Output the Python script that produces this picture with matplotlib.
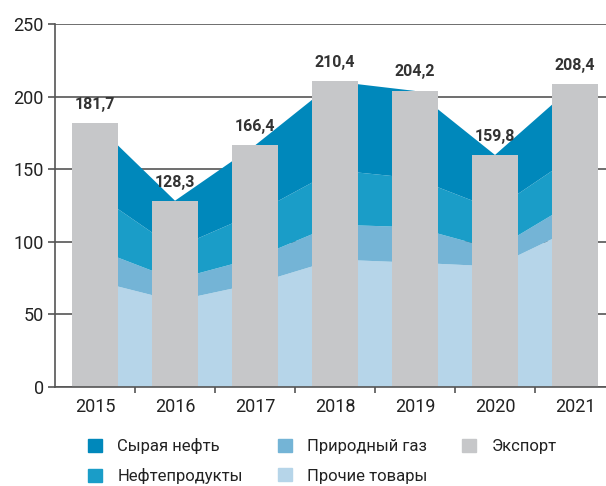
import numpy as np
import matplotlib.pyplot as plt
from matplotlib.patches import Patch

# данные
years = ['2015', '2016', '2017', '2018', '2019', '2020', '2021']
export = [181.7, 128.3, 166.4, 210.4, 204.2, 159.8, 208.4]
crude = [48.2, 32.8, 46.9, 61.1, 60.2, 37.5, 48.9]
products = [38.3, 21.5, 30.7, 37.5, 33.7, 27.4, 31.6]
gas = [22.0, 14.7, 17.7, 24.0, 24.4, 11.9, 18.4]
other = [73.2, 59.3, 71.1, 87.8, 85.6, 83.0, 109.5]

c_crude = '#0088bb'
c_prod = '#1a9dc8'
c_gas = '#74b4d6'
c_other = '#b6d5e9'
c_export = '#c6c7c9'
axcol = '#555555'

plt.rcParams['font.family'] = ['Roboto', 'DejaVu Sans']

fig = plt.figure(figsize=(6.06, 4.86), dpi=100)
ax = fig.add_axes([55/606, 1-387/486, 1-55/606, (387-24)/486])

x = np.arange(len(years))
ax.stackplot(x, other, gas, products, crude,
             colors=[c_other, c_gas, c_prod, c_crude], zorder=1)
ax.bar(x, export, width=0.575, color=c_export, zorder=2)

for i, v in enumerate(export):
    ax.annotate(f'{v:.1f}'.replace('.', ','), (x[i], v), xytext=(0, 8),
                textcoords='offset points', ha='center', va='bottom',
                fontsize=11.5, fontweight='bold', color='#333333', zorder=3)

ax.set_xlim(-0.5, 6.3875)
ax.set_ylim(0, 250)
ax.set_yticks(range(0, 251, 50))
ax.yaxis.grid(True, color=axcol, linewidth=1.2, zorder=0)
ax.set_axisbelow(True)

ax.set_xticks(x)
ax.set_xticklabels(years)
ax.set_xticks(np.arange(0.5, 6.5, 1), minor=True)
ax.tick_params(axis='x', which='major', length=0, pad=8, labelsize=13, colors='#222222')
ax.tick_params(axis='x', which='minor', length=4, width=1.2, color=axcol)
ax.tick_params(axis='y', length=5, width=1.2, color=axcol, labelsize=13,
               labelcolor='#222222', pad=3)

for s in ['top', 'right']:
    ax.spines[s].set_visible(False)
for s in ['left', 'bottom']:
    ax.spines[s].set_color(axcol)
    ax.spines[s].set_linewidth(1.2)

handles = [Patch(color=c_crude), Patch(color=c_prod), Patch(color=c_gas),
           Patch(color=c_other), Patch(color=c_export)]
labels = ['Сырая нефть', 'Нефтепродукты', 'Природный газ', 'Прочие товары', 'Экспорт']
fig.legend(handles, labels, ncol=3, loc='upper left', bbox_to_anchor=(88/606, 1-438/486),
           frameon=False, fontsize=12, handlelength=0.85, handleheight=0.85,
           handletextpad=0.9, columnspacing=2.1, labelspacing=0.85, borderpad=0,
           borderaxespad=0, labelcolor='#222222')

fig.savefig('out.png', dpi=100)
